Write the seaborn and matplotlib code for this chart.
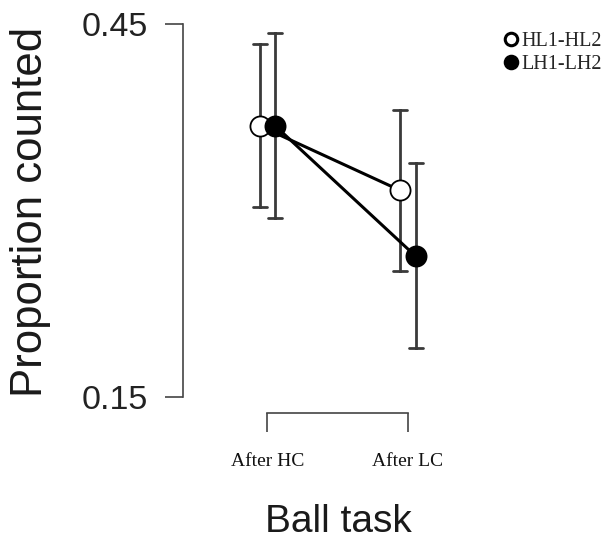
import numpy as np
import pandas as pd
import matplotlib.pyplot as plt
from matplotlib.lines import Line2D
import seaborn as sns

# values
conditions = ["After HC", "After LC"]
groups = ["HL1-HL2", "LH1-LH2"]
means = {"HL1-HL2": [0.368, 0.316], "LH1-LH2": [0.368, 0.263]}
lower = {"HL1-HL2": [0.303, 0.251], "LH1-LH2": [0.294, 0.189]}
upper = {"HL1-HL2": [0.434, 0.381], "LH1-LH2": [0.443, 0.338]}
y_ticks = [0.15, 0.45]
y_tick_labels = ["0.15", "0.45"]

# long form: lower / mean / upper per cell, median -> mean, min/max -> error bar
rows = []
for g in groups:
    for i, c in enumerate(conditions):
        for v in (lower[g][i], means[g][i], upper[g][i]):
            rows.append({"group": g, "task": c, "prop": v})
df = pd.DataFrame(rows)

sns.set_style("ticks")
plt.rcParams["font.family"] = ["Liberation Sans", "DejaVu Sans"]

fig = plt.figure(figsize=(6.03, 5.40), dpi=100)
ax = fig.add_axes([183 / 603, 127 / 540, 297 / 603, 403 / 540])

sns.pointplot(data=df, x="task", y="prop", hue="group", order=conditions,
              hue_order=groups, estimator=np.median,
              errorbar=lambda v: (v.min(), v.max()),
              palette=["black", "black"], dodge=0.11, capsize=0.1,
              markers="o", markersize=14.5, linewidth=2.2,
              err_kws={"color": "#3a3a3a", "linewidth": 2},
              legend=False, ax=ax)

# open circles for the first group, markers above error bars
main_lines = [ln for ln in ax.lines if ln.get_marker() == "o"]
for ln in ax.lines:
    ln.set_zorder(2)
for ln, face in zip(main_lines, ["white", "black"]):
    ln.set_markerfacecolor(face)
    ln.set_markeredgecolor("black")
    ln.set_markeredgewidth(1.3)
    ln.set_zorder(3)

sns.despine(ax=ax)
ax.spines["left"].set_bounds(0.15, 0.45)
ax.spines["bottom"].set_bounds(0, 1)
for s in ["left", "bottom"]:
    ax.spines[s].set_color("#444444")
    ax.spines[s].set_linewidth(1.2)
ax.set_ylim(0.1368, 0.4613)
ax.set_xlim(-0.6014, 1.5125)
ax.set_yticks(y_ticks, y_tick_labels)
ax.tick_params(axis="y", length=13, width=1.2, pad=12, labelsize=24.5,
               color="#444444", labelcolor="#222222")
ax.tick_params(axis="x", length=14, width=1.2, pad=15, labelsize=14,
               color="#444444", labelcolor="#111111")
for lab in ax.get_xticklabels():
    lab.set_fontfamily("Liberation Serif")

ax.set_ylabel("Proportion counted", fontsize=31.5, color="#1a1a1a")
ax.yaxis.set_label_coords((51 - 183) / 297, 0.5)
ax.set_xlabel("Ball task", fontsize=28, color="#1a1a1a", va="baseline")
ax.xaxis.set_label_coords((338 - 183) / 297, (413 - 532) / 403)

handles = [
    Line2D([], [], ls="none", marker="o", ms=9, mfc="white", mec="black", mew=2.2),
    Line2D([], [], ls="none", marker="o", ms=9, mfc="black", mec="black", mew=2.2),
]
fig.legend(handles, groups, loc="upper left",
           bbox_to_anchor=(504 / 603, 1 - 32 / 540), frameon=False,
           prop={"family": "Liberation Serif", "size": 14.5},
           handlelength=0.7, handletextpad=0.15, labelspacing=0.2,
           borderpad=0, borderaxespad=0)

fig.savefig("out.png", dpi=100)
